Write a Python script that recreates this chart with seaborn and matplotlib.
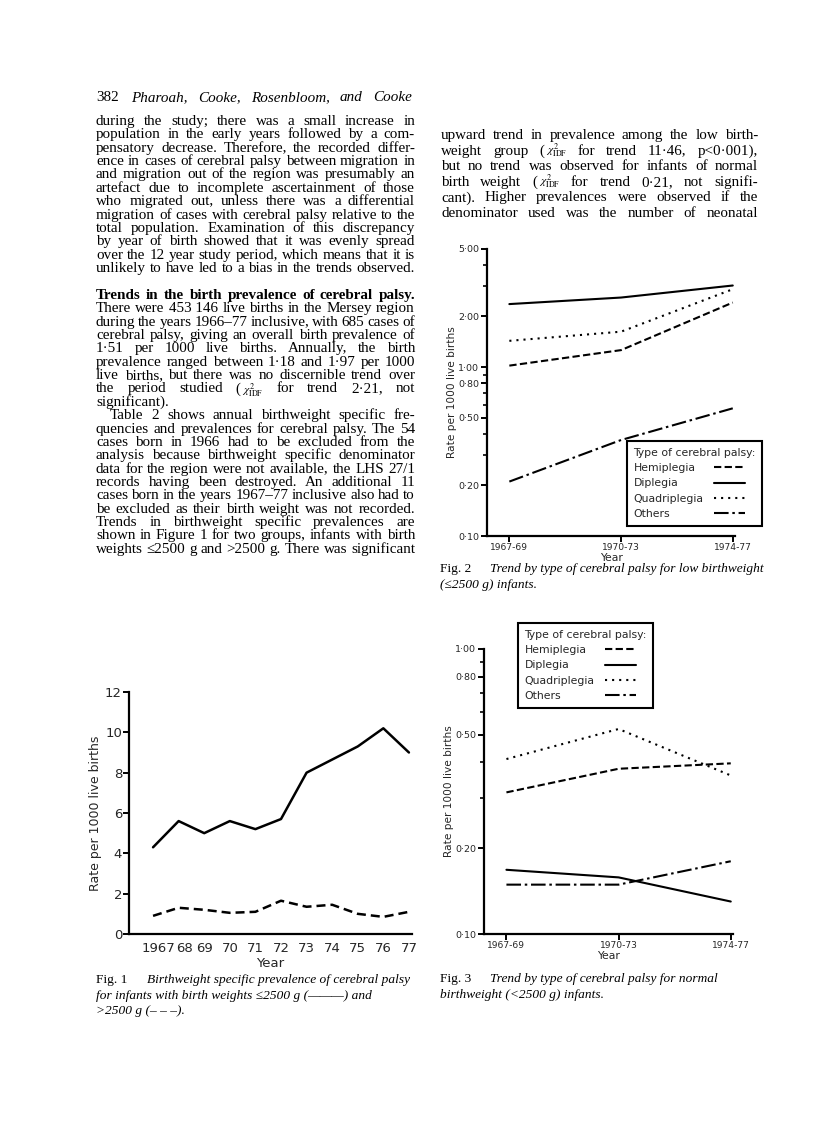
import matplotlib
matplotlib.use("Agg")
import matplotlib.pyplot as plt
import matplotlib.transforms as mtransforms
from matplotlib.ticker import FixedLocator, NullFormatter
import pandas as pd
import seaborn as sns

# %% data
years = [1967, 1968, 1969, 1970, 1971, 1972, 1973, 1974, 1975, 1976, 1977]
year_labels = ["1967", "68", "69", "70", "71", "72", "73", "74", "75", "76", "77"]
low_bw = [4.3, 5.6, 5.0, 5.6, 5.2, 5.7, 8.0, 8.65, 9.3, 10.2, 9.0]
normal_bw = [0.9, 1.3, 1.2, 1.05, 1.1, 1.65, 1.35, 1.45, 1.0, 0.85, 1.1]
fig1_yticks = [0, 2, 4, 6, 8, 10, 12]

periods = ["1967-69", "1970-73", "1974-77"]
cp_types = ["Hemiplegia", "Diplegia", "Quadriplegia", "Others"]
low_hemi = [1.02, 1.26, 2.41]
low_di = [2.36, 2.58, 3.04]
low_quad = [1.43, 1.62, 2.89]
low_oth = [0.21, 0.37, 0.57]
norm_hemi = [0.314, 0.38, 0.397]
norm_di = [0.168, 0.158, 0.13]
norm_quad = [0.411, 0.524, 0.36]
norm_oth = [0.149, 0.149, 0.18]

fig2_yticks = [0.10, 0.20, 0.50, 0.80, 1.00, 2.00, 5.00]
fig3_yticks = [0.10, 0.20, 0.50, 0.80, 1.00]
minor_ticks = [0.3, 0.4, 0.6, 0.7, 0.9, 3.0, 4.0]

chi = r"$\chi^2_{\mathrm{IDF}}$"
left_col = [
    "during the study; there was a small increase in",
    "population in the early years followed by a com-",
    "pensatory decrease. Therefore, the recorded differ-",
    "ence in cases of cerebral palsy between migration in",
    "and migration out of the region was presumably an",
    "artefact due to incomplete ascertainment of those",
    "who migrated out, unless there was a differential",
    "migration of cases with cerebral palsy relative to the",
    "total population. Examination of this discrepancy",
    "by year of birth showed that it was evenly spread",
    "over the 12 year study period, which means that it is",
    "unlikely to have led to a bias in the trends observed.",
    "",
    "Trends in the birth prevalence of cerebral palsy.",
    "There were 453\u00a0146 live births in the Mersey region",
    "during the years 1966–77 inclusive, with 685 cases of",
    "cerebral palsy, giving an overall birth prevalence of",
    "1·51 per 1000 live births. Annually, the birth",
    "prevalence ranged between 1·18 and 1·97 per 1000",
    "live births, but there was no discernible trend over",
    "the period studied ( " + chi + " for trend 2·21, not",
    "significant).",
    "Table 2 shows annual birthweight specific fre-",
    "quencies and prevalences for cerebral palsy. The 54",
    "cases born in 1966 had to be excluded from the",
    "analysis because birthweight specific denominator",
    "data for the region were not available, the LHS 27/1",
    "records having been destroyed. An additional 11",
    "cases born in the years 1967–77 inclusive also had to",
    "be excluded as their birth weight was not recorded.",
    "Trends in birthweight specific prevalences are",
    "shown in Figure 1 for two groups, infants with birth",
    "weights ≤2500 g and >2500 g. There was significant",
]
right_col = [
    "upward trend in prevalence among the low birth-",
    "weight group ( " + chi + " for trend 11·46, p<0·001),",
    "but no trend was observed for infants of normal",
    "birth weight ( " + chi + " for trend 0·21, not signifi-",
    "cant). Higher prevalences were observed if the",
    "denominator used was the number of neonatal",
]

# %% setup
sns.set_style("ticks")
plt.rcParams["font.family"] = ["DejaVu Sans"]
plt.rcParams["mathtext.fontset"] = "stix"

W, H = 816, 1128
fig = plt.figure(figsize=(W / 100, H / 100), dpi=100)
renderer = fig.canvas.get_renderer()
serif = ["Liberation Serif", "DejaVu Serif"]


def fy(y):
    return 1 - y / H


def put_line(x0, x1, y, text, justify=True, math_dy=0.0, **kw):
    words = text.split(" ")
    if not justify or len(words) == 1:
        fig.text(x0 / W, fy(y), text, va="baseline", **kw)
        return
    arts = []
    for w in words:
        wkw = dict(kw)
        wy = y
        if "$" in w:
            # chi-square sign: a little smaller than the running text
            wkw["size"] = kw["size"] * 0.75
            wy = y + math_dy
        arts.append(fig.text(0, fy(wy), w, va="baseline", **wkw))
    widths = [a.get_window_extent(renderer).width for a in arts]
    # the bracket before the chi-square sign sits tight against it
    tight = [w == "(" for w in words]
    n_gaps = len(words) - 1 - sum(tight)
    gap = ((x1 - x0) - sum(widths) - 1.5 * sum(tight)) / n_gaps
    x = x0
    for a, w, t in zip(arts, widths, tight):
        a.set_x(x / W)
        x += w + (1.5 if t else gap)


body = dict(family=serif, size=10.9, color="black")

# header
fig.text(96 / W, fy(101), "382", **body)
put_line(131, 412, 101, "Pharoah, Cooke, Rosenbloom, and Cooke",
         style="italic", **body)

for i, line in enumerate(left_col):
    if not line:
        continue
    y = 125 + 13.37 * i
    x0 = 110 if line.startswith("Table 2") else 96
    kw = dict(body)
    if line.startswith("Trends in the birth"):
        kw["weight"] = "bold"
    put_line(x0, 415, y, line, justify=(line != "significant)."),
             math_dy=2, **kw)

for i, line in enumerate(right_col):
    put_line(441, 758, 139 + 15.6 * i, line, math_dy=-1, **body)

# captions
cap = dict(family=serif, size=9.6, color="black")
fig.text(96 / W, fy(983), "Fig. 1", **cap)
fig.text(147 / W, fy(983), "Birthweight specific prevalence of cerebral palsy",
         style="italic", **cap)
fig.text(96 / W, fy(999), "for infants with birth weights ≤2500 g (———) and",
         style="italic", **cap)
fig.text(96 / W, fy(1014), ">2500 g (– – –).", style="italic", **cap)

fig.text(440 / W, fy(572), "Fig. 2", **cap)
fig.text(490 / W, fy(572), "Trend by type of cerebral palsy for low birthweight",
         style="italic", **cap)
fig.text(440 / W, fy(588), "(≤2500 g) infants.", style="italic", **cap)

fig.text(440 / W, fy(982), "Fig. 3", **cap)
fig.text(490 / W, fy(982), "Trend by type of cerebral palsy for normal",
         style="italic", **cap)
fig.text(440 / W, fy(998), "birthweight (<2500 g) infants.", style="italic", **cap)


def axes_px(x0, x1, ytop, ybot):
    return fig.add_axes([x0 / W, fy(ybot), (x1 - x0) / W, (ybot - ytop) / H])


def style_axes(ax, fs):
    sns.despine(ax=ax)
    for s in ("left", "bottom"):
        ax.spines[s].set_linewidth(1.6)
        ax.spines[s].set_color("black")
    ax.tick_params(axis="both", which="major", direction="out", length=4,
                   width=1.4, color="black", labelsize=fs, pad=1.5)
    ax.tick_params(axis="both", which="minor", direction="out", length=3,
                   width=1.2, color="black")
    ax.set_facecolor("none")


# %% Fig. 1
df1 = pd.DataFrame({
    "year": years * 2,
    "rate": low_bw + normal_bw,
    "group": ["low"] * len(years) + ["normal"] * len(years),
})
ax1 = axes_px(129, 412, 692, 934)
sns.lineplot(data=df1, x="year", y="rate", style="group", color="black",
             dashes={"low": "", "normal": (3.6, 2.0)}, linewidth=1.8,
             legend=False, ax=ax1)
ax1.set_xlim(1966.06, 1977.12)
ax1.set_ylim(0, 12)
ax1.set_xticks(years)
ax1.set_xticklabels(year_labels)
ax1.set_yticks(fig1_yticks)
ax1.set_yticklabels([str(v) for v in fig1_yticks])
style_axes(ax1, 9.5)
ax1.tick_params(axis="x", length=0, pad=6)
ax1.tick_params(axis="y", pad=1)
for lab in ax1.get_xticklabels()[:2]:
    lab.set_transform(lab.get_transform()
                      + mtransforms.ScaledTranslation(4 / 72, 0, fig.dpi_scale_trans))
ax1.set_xlabel("Year", fontsize=9.5, labelpad=1)
ax1.set_ylabel("Rate per 1000 live births", fontsize=9, labelpad=2)


# %% Fig. 2 and Fig. 3
def trend_panel(rect, hemi, di, quad, oth, yticks, ytop, legend_xy):
    df = pd.DataFrame({
        "period": periods * 4,
        "rate": hemi + di + quad + oth,
        "type": [t for t in cp_types for _ in periods],
    })
    df["pos"] = [periods.index(p) for p in df["period"]]
    ax = axes_px(*rect)
    sns.lineplot(data=df, x="pos", y="rate", hue="type", style="type",
                 hue_order=cp_types, style_order=cp_types,
                 palette=["black"] * 4, linewidth=1.5,
                 dashes={"Hemiplegia": (3.5, 1.6), "Diplegia": "",
                         "Quadriplegia": (1.0, 2.4),
                         "Others": (7, 1.8, 1.2, 1.8)},
                 ax=ax)
    ax.set_yscale("log")
    ax.set_ylim(0.1, ytop)
    ax.set_xlim(-0.2, 2.02)
    ax.set_xticks(range(len(periods)))
    ax.set_xticklabels(periods)
    ax.yaxis.set_major_locator(FixedLocator(yticks))
    ax.set_yticklabels([f"{v:.2f}".replace(".", "·") for v in yticks])
    ax.yaxis.set_minor_locator(FixedLocator([m for m in minor_ticks if m < ytop]))
    ax.yaxis.set_minor_formatter(NullFormatter())
    style_axes(ax, 6.8)
    ax.tick_params(axis="x", labelsize=6.6, pad=1)
    ax.set_xlabel("Year", fontsize=7.8, labelpad=0.5)
    ax.set_ylabel("Rate per 1000 live births", fontsize=7.6, labelpad=1)
    h, l = ax.get_legend_handles_labels()
    leg = ax.legend(h, l, title="Type of cerebral palsy:", loc="upper left",
                    bbox_to_anchor=(legend_xy[0] / W, fy(legend_xy[1])),
                    bbox_transform=fig.transFigure, borderaxespad=0,
                    markerfirst=False, frameon=True, fancybox=False,
                    framealpha=1, edgecolor="black", fontsize=7.8,
                    title_fontsize=7.8, handlelength=2.8, labelspacing=0.5,
                    borderpad=0.6, handletextpad=1.0, alignment="left")
    leg.get_frame().set_linewidth(1.5)
    # left-align the labels while keeping the line samples lined up on the right
    widths = [t.get_window_extent(renderer).width for t in leg.get_texts()]
    items = leg._legend_handle_box.get_children()[0].get_children()
    for item, w in zip(items, widths):
        item.sep = leg.handletextpad * leg._fontsize + (max(widths) - w) * 72 / fig.dpi
    return ax


trend_panel((487, 735, 249, 536), low_hemi, low_di, low_quad, low_oth,
            fig2_yticks, 5.0, (627, 441))
trend_panel((484, 733, 649, 934), norm_hemi, norm_di, norm_quad, norm_oth,
            fig3_yticks, 1.0, (518, 623))

fig.savefig("out.png", dpi=100)
